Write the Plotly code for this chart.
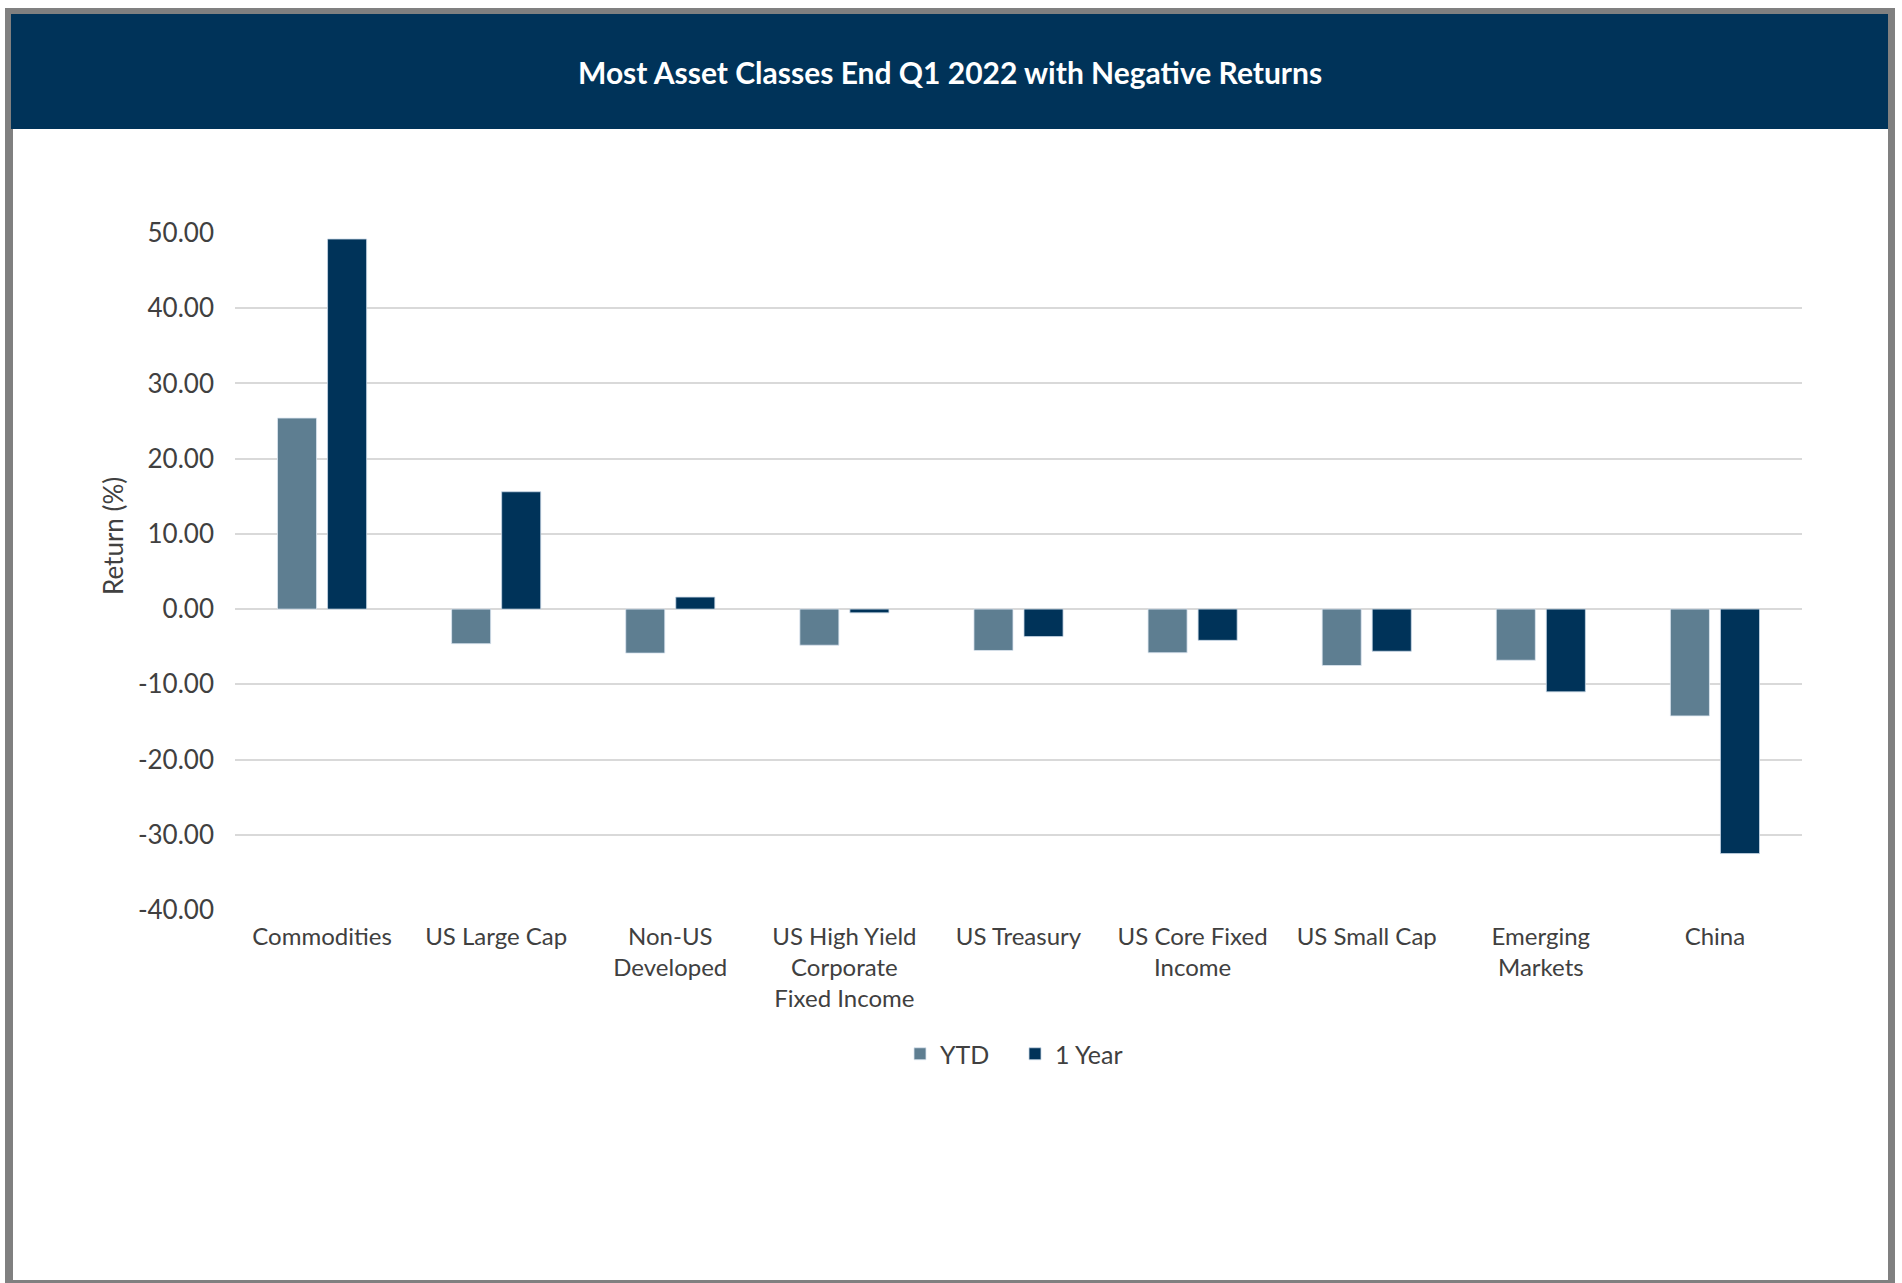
import plotly.graph_objects as go

categories = ["Commodities", "US Large Cap", "Non-US<br>Developed",
              "US High Yield<br>Corporate<br>Fixed Income", "US Treasury",
              "US Core Fixed<br>Income", "US Small Cap", "Emerging<br>Markets", "China"]
ytd = [25.4, -4.6, -5.85, -4.8, -5.5, -5.8, -7.5, -6.8, -14.2]
one_year = [49.2, 15.6, 1.6, -0.5, -3.65, -4.15, -5.6, -11.0, -32.5]
y_ticks = [-40, -30, -20, -10, 0, 10, 20, 30, 40, 50]
y_tick_labels = ["-40.00", "-30.00", "-20.00", "-10.00", "0.00", "10.00", "20.00", "30.00", "40.00", "50.00"]

W, H = 1902, 1283
L, R, T, B = 235, 1802, 233, 910
FONT = "Lato"
TXT = "#404040"
NAVY = "#003359"
SLATE = "#5E7E91"

def xp(px):
    return (px - L) / (R - L)

def yp(py):
    return (B - py) / (B - T)

fig = go.Figure()
fig.add_trace(go.Bar(name="YTD", x=categories, y=ytd, marker=dict(color=SLATE, line=dict(color="rgba(220,230,240,0.8)", width=1))))
fig.add_trace(go.Bar(name="1 Year", x=categories, y=one_year, marker=dict(color=NAVY, line=dict(color="rgba(200,215,230,0.8)", width=1))))

shapes = [
    dict(type="rect", xref="paper", yref="paper", x0=xp(5), x1=xp(1895), y0=yp(8), y1=yp(1283),
         fillcolor="#808080", line=dict(width=0), layer="below"),
    dict(type="rect", xref="paper", yref="paper", x0=xp(13), x1=xp(1888), y0=yp(14), y1=yp(1280),
         fillcolor="white", line=dict(width=0), layer="below"),
    dict(type="rect", xref="paper", yref="paper", x0=xp(11), x1=xp(1888), y0=yp(14), y1=yp(129),
         fillcolor=NAVY, line=dict(width=0), layer="below"),
]

annotations = [
    dict(text="<b>Most Asset Classes End Q1 2022 with Negative Returns</b>", xref="paper", yref="paper",
         x=xp(950), y=yp(72), xanchor="center", yanchor="middle", showarrow=False,
         font=dict(family=FONT, size=30, color="white")),
    dict(text="Return (%)", xref="paper", yref="paper", x=xp(113), y=yp(536), textangle=-90,
         xanchor="center", yanchor="middle", showarrow=False,
         font=dict(family=FONT, size=26, color=TXT)),
]

fig.update_layout(
    width=W, height=H,
    margin=dict(l=L, r=W - R, t=T, b=H - B, pad=0),
    paper_bgcolor="white", plot_bgcolor="rgba(0,0,0,0)",
    barmode="group", bargap=0.425, bargroupgap=0.22,
    font=dict(family=FONT, size=24, color=TXT),
    shapes=shapes, annotations=annotations,
    showlegend=True,
    legend=dict(orientation="h", x=xp(1015), y=yp(1054), xanchor="center", yanchor="middle",
                entrywidth=70, itemwidth=30, font=dict(family=FONT, size=25, color=TXT),
                bgcolor="rgba(0,0,0,0)"),
    xaxis=dict(showgrid=False, showline=False, zeroline=False, ticks="", tickangle=0,
               tickfont=dict(family=FONT, size=24, color=TXT), ticklabelstandoff=10),
    yaxis=dict(range=[-40, 50], tickvals=y_ticks, ticktext=y_tick_labels, showgrid=True,
               gridcolor="#D9D9D9", gridwidth=2, zeroline=True, zerolinecolor="#D9D9D9", zerolinewidth=2,
               showline=False, ticks="", tickfont=dict(family=FONT, size=26, color=TXT),
               ticklabelstandoff=20),
)

fig.write_html("out.html")
